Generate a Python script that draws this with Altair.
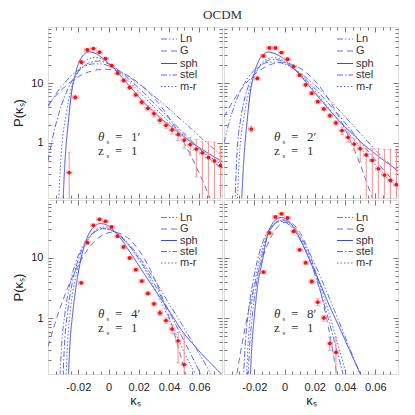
import altair as alt
import pandas as pd

# ---------------- data ----------------
XERR = 0.0018  # horizontal half-width of the bin error bars

# Panel 1: theta = 1'
P1_X = [-0.026, -0.022, -0.018, -0.014, -0.010, -0.006, -0.002, 0.002, 0.006, 0.010, 0.014, 0.018, 0.022,
        0.026, 0.030, 0.034, 0.038, 0.042, 0.046, 0.050, 0.054, 0.058, 0.062, 0.066, 0.070, 0.074]
P1_Y = [0.32, 5.8, 22.4, 36, 37.9, 32.9, 25.8, 19.7, 14.7, 11.1, 8.5, 6.4, 4.8,
        3.8, 3.1, 2.4, 1.97, 1.65, 1.38, 1.12, 0.94, 0.79, 0.68, 0.57, 0.50, 0.42]
P1_LO = [0.05, 5.3, 21, 34, 36, 31, 24.5, 18.7, 13.9, 10.4, 7.9, 5.9, 4.4,
         3.45, 2.75, 2.1, 1.76, 1.41, 1.10, 0.82, 0.62, 0.27, 0.05, 0.05, 0.05, 0.05]
P1_HI = [0.70, 6.3, 23.8, 38, 39.8, 34.8, 27.1, 20.7, 15.5, 11.8, 9.1, 6.9, 5.2,
         4.2, 3.45, 2.7, 2.19, 1.88, 1.67, 1.45, 1.24, 1.14, 1.05, 1.05, 1.03, 0.85]

P1_LN_X = [-0.040, -0.035, -0.030, -0.025, -0.020, -0.015, -0.010, -0.005, 0.000, 0.005, 0.010, 0.015,
           0.020, 0.025, 0.030, 0.035, 0.040, 0.045, 0.050, 0.055, 0.060, 0.065, 0.070, 0.076]
P1_LN_Y = [4.0, 6.5, 9.5, 13, 16.5, 19.5, 21, 21, 19.5, 17, 14.5, 12,
           9.7, 7.8, 6.1, 4.8, 3.7, 2.85, 2.2, 1.7, 1.3, 1.0, 0.78, 0.58]
P1_G_X = [-0.040, -0.035, -0.030, -0.025, -0.020, -0.015, -0.010, -0.003, 0.005, 0.010, 0.015,
          0.020, 0.025, 0.030, 0.035, 0.040, 0.045, 0.050, 0.055, 0.060, 0.065, 0.070]
P1_G_Y = [4.3, 6.1, 8.2, 10.5, 12.8, 14.8, 16.2, 17.1, 16.1, 14.5, 12.4,
          10.0, 7.8, 5.7, 4.0, 2.64, 1.67, 1.0, 0.57, 0.31, 0.16, 0.08]
P1_SPH_X = [-0.0306, -0.0288, -0.0266, -0.0244, -0.0222, -0.0200, -0.0171, -0.0145, -0.0123, -0.0090,
            -0.0035, 0.0031, 0.0097, 0.0163, 0.0229, 0.0295, 0.0361, 0.0427, 0.0493, 0.0559, 0.0625,
            0.0691, 0.0757]
P1_SPH_Y = [0.05, 0.48, 2.21, 7.0, 13.3, 20.8, 28.6, 32.5, 33.3, 31.7,
            25.5, 18.3, 11.8, 7.6, 4.9, 3.4, 2.4, 1.75, 1.3, 0.98, 0.76, 0.6, 0.48]
P1_STEL_X = [-0.040, -0.037, -0.033, -0.029, -0.025, -0.020, -0.015, -0.010, -0.006, -0.002, 0.003,
             0.008, 0.013, 0.018, 0.023, 0.028, 0.033, 0.038, 0.043, 0.048, 0.053, 0.058, 0.063, 0.068, 0.076]
P1_STEL_Y = [0.5, 1.2, 3.0, 6.0, 10, 15.5, 20.5, 23, 23.5, 22, 19,
             15.5, 12, 9.2, 7.0, 5.2, 3.9, 2.9, 2.15, 1.6, 1.2, 0.9, 0.68, 0.52, 0.35]
P1_MR_X = [-0.0335, -0.031, -0.028, -0.025, -0.021, -0.017, -0.013, -0.009, -0.005, 0.000, 0.005, 0.010,
           0.015, 0.020, 0.025, 0.030, 0.035, 0.040, 0.045, 0.050, 0.055, 0.060, 0.065, 0.070, 0.076]
P1_MR_Y = [0.06, 0.8, 3.0, 7.5, 14, 21, 25.5, 27, 25.5, 21.5, 17, 13,
           9.8, 7.3, 5.4, 4.0, 3.0, 2.25, 1.7, 1.3, 1.0, 0.8, 0.64, 0.52, 0.42]

# Panel 2: theta = 2'
P2_X = [-0.022, -0.018, -0.014, -0.010, -0.006, -0.002, 0.002, 0.006, 0.010, 0.014, 0.018, 0.022,
        0.026, 0.030, 0.034, 0.038, 0.042, 0.046, 0.050, 0.054, 0.058, 0.062, 0.066, 0.070, 0.074]
P2_Y = [1.71, 12.0, 28.6, 38.8, 38.8, 32.5, 25.2, 19.0, 13.6, 9.4, 6.8, 4.9,
        3.7, 2.86, 2.16, 1.61, 1.24, 0.96, 0.80, 0.63, 0.51, 0.37, 0.29, 0.236, 0.20]
P2_LO = [1.55, 11.2, 27, 37, 37, 31, 24, 18, 12.9, 8.9, 6.4, 4.6,
         3.45, 2.65, 1.95, 1.38, 1.03, 0.75, 0.48, 0.05, 0.05, 0.05, 0.05, 0.05, 0.05]
P2_HI = [1.9, 12.8, 30.2, 40.7, 40.7, 34, 26.4, 20, 14.3, 9.9, 7.2, 5.2,
         3.95, 3.07, 2.36, 1.83, 1.45, 1.17, 1.03, 0.80, 0.80, 0.80, 0.78, 0.78, 0.75]

P2_LN_X = [-0.040, -0.036, -0.032, -0.028, -0.024, -0.020, -0.015, -0.010, -0.005, 0.000, 0.005, 0.010,
           0.015, 0.020, 0.025, 0.030, 0.035, 0.040, 0.045, 0.050, 0.055, 0.060, 0.065, 0.070, 0.076]
P2_LN_Y = [1.0, 2.5, 5, 8.5, 12.5, 16.5, 20.5, 22.5, 22.5, 21, 18, 15,
           12, 9.3, 7.0, 5.2, 3.8, 2.75, 2.0, 1.45, 1.05, 0.77, 0.57, 0.43, 0.31]
P2_G_X = [-0.040, -0.036, -0.032, -0.028, -0.024, -0.020, -0.016, -0.012, -0.008, -0.002, 0.004, 0.010,
          0.014, 0.018, 0.022, 0.026, 0.030, 0.034, 0.038, 0.042, 0.046, 0.050, 0.054, 0.058, 0.062]
P2_G_Y = [2.72, 4.14, 6.0, 8.3, 11.0, 13.8, 16.7, 19.1, 21.0, 22.1, 21.0, 17.9,
          15.3, 12.4, 9.6, 7.1, 5.0, 3.38, 2.17, 1.33, 0.78, 0.44, 0.23, 0.12, 0.058]
P2_SPH_X = [-0.0290, -0.0270, -0.0248, -0.0226, -0.0204, -0.0171, -0.0138, -0.0105, -0.0072, -0.0017,
            0.0049, 0.0115, 0.0181, 0.0247, 0.0313, 0.0379, 0.0445, 0.0511, 0.0577, 0.0643, 0.0709, 0.0764]
P2_SPH_Y = [0.05, 0.48, 2.21, 7.0, 13.3, 23.6, 30.5, 33.3, 31.7, 26.9,
            19.0, 12.5, 7.9, 5.0, 3.2, 2.1, 1.45, 1.0, 0.73, 0.54, 0.41, 0.32]
P2_STEL_X = [-0.033, -0.0315, -0.029, -0.026, -0.022, -0.018, -0.014, -0.010, -0.006, -0.002, 0.003,
             0.008, 0.013, 0.018, 0.023, 0.028, 0.033, 0.038, 0.043, 0.048, 0.053, 0.058, 0.063, 0.068, 0.076]
P2_STEL_Y = [0.06, 0.6, 2.5, 6, 11.5, 17, 21.5, 24.5, 25, 23.5, 20,
             16, 12.3, 9.2, 6.8, 4.9, 3.5, 2.5, 1.75, 1.22, 0.85, 0.6, 0.42, 0.3, 0.18]
P2_MR_X = [-0.0315, -0.030, -0.027, -0.024, -0.020, -0.016, -0.012, -0.008, -0.004, 0.000, 0.005, 0.010,
           0.015, 0.020, 0.025, 0.030, 0.035, 0.040, 0.045, 0.050, 0.055, 0.060, 0.065, 0.070, 0.076]
P2_MR_Y = [0.06, 0.5, 2.5, 6.5, 13, 20, 25, 27, 26, 23, 18.5, 14,
           10.3, 7.4, 5.2, 3.6, 2.5, 1.75, 1.2, 0.85, 0.6, 0.43, 0.31, 0.23, 0.16]

# Panel 3: theta = 4'
P3_X = [-0.018, -0.014, -0.010, -0.006, -0.002, 0.002, 0.006, 0.010, 0.014,
        0.018, 0.022, 0.026, 0.030, 0.034, 0.038, 0.042, 0.046, 0.050]
P3_Y = [3.87, 18.0, 35.0, 44.0, 40.8, 32.8, 23.0, 15.3, 10.0,
        6.4, 4.13, 2.58, 1.73, 1.22, 0.91, 0.66, 0.42, 0.169]
P3_LO = [3.65, 17.0, 33.3, 42, 39, 31.3, 21.9, 14.5, 9.5,
         6.05, 3.9, 2.42, 1.6, 1.1, 0.82, 0.55, 0.18, 0.05]
P3_HI = [4.1, 19.0, 36.8, 46, 42.6, 34.3, 24.1, 16.1, 10.5,
         6.75, 4.37, 2.74, 1.86, 1.34, 1.01, 0.78, 0.58, 0.55]

P3_LN_X = [-0.0325, -0.031, -0.029, -0.026, -0.022, -0.018, -0.014, -0.010, -0.006, -0.002, 0.002, 0.006,
           0.010, 0.014, 0.018, 0.022, 0.026, 0.030, 0.034, 0.038, 0.042, 0.046, 0.050, 0.054, 0.058,
           0.062, 0.066, 0.070, 0.074]
P3_LN_Y = [0.06, 0.35, 1.1, 3.2, 8, 14, 20.5, 26, 29.5, 30.5, 29, 25.5,
           21, 16.5, 12.5, 9, 6.4, 4.5, 3.1, 2.1, 1.45, 1.0, 0.68, 0.46, 0.31, 0.21, 0.14, 0.095, 0.065]
P3_G_X = [-0.040, -0.034, -0.028, -0.022, -0.016, -0.010, -0.004, 0.003, 0.010, 0.016, 0.022, 0.028,
          0.034, 0.040, 0.046, 0.050, 0.054]
P3_G_Y = [0.336, 1.05, 2.75, 6.1, 11.4, 18.0, 24.0, 26.9, 24.0, 18.0, 11.4, 6.1,
          2.75, 1.05, 0.336, 0.143, 0.06]
P3_SPH_X = [-0.0270, -0.0255, -0.0237, -0.0215, -0.0189, -0.0156, -0.0123, -0.0090, -0.0057, -0.0024,
            0.0009, 0.0053, 0.0097, 0.0141, 0.0185, 0.0229, 0.0295, 0.0361, 0.0427, 0.0493, 0.0559,
            0.0625, 0.0691, 0.0746, 0.0760]
P3_SPH_Y = [0.05, 0.37, 1.18, 3.28, 8.0, 17.3, 27.1, 34.1, 37.3, 36.4,
            32.8, 25.4, 18.5, 12.6, 8.6, 5.8, 3.28, 1.85, 1.04, 0.58, 0.37, 0.24, 0.163, 0.118, 0.11]
P3_STEL_X = [-0.0305, -0.029, -0.027, -0.024, -0.020, -0.016, -0.012, -0.008, -0.004, 0.000, 0.004,
             0.008, 0.012, 0.016, 0.020, 0.024, 0.028, 0.032, 0.036, 0.040, 0.044, 0.048, 0.052, 0.056,
             0.060, 0.064]
P3_STEL_Y = [0.06, 0.4, 1.3, 3.8, 9.5, 16.5, 23.5, 28.5, 31, 30, 27,
             22.5, 17.8, 13.5, 9.8, 6.9, 4.7, 3.1, 2.0, 1.3, 0.82, 0.52, 0.33, 0.21, 0.13, 0.08]
P3_MR_X = [-0.0285, -0.027, -0.025, -0.022, -0.018, -0.014, -0.010, -0.006, -0.002, 0.002, 0.006, 0.010,
           0.014, 0.018, 0.022, 0.026, 0.030, 0.034, 0.038, 0.042, 0.046, 0.050, 0.054, 0.058, 0.062]
P3_MR_Y = [0.06, 0.4, 1.5, 4.5, 11, 19, 27, 32, 33, 30, 25.5, 20.5,
           15.5, 11.3, 7.8, 5.2, 3.3, 2.05, 1.25, 0.75, 0.45, 0.27, 0.17, 0.11, 0.07]

# Panel 4: theta = 8'
P4_X = [-0.014, -0.010, -0.006, -0.002, 0.002, 0.006, 0.010, 0.014, 0.018, 0.022, 0.026, 0.030, 0.034]
P4_Y = [5.84, 26.1, 48.2, 54.1, 46.4, 27.8, 13.7, 8.35, 4.08, 1.84, 1.01, 0.38, 0.27]
P4_LO = [5.5, 24.8, 46, 51.8, 44.4, 26.4, 12.9, 7.8, 3.75, 1.62, 0.89, 0.29, 0.05]
P4_HI = [6.2, 27.4, 50.4, 56.4, 48.4, 29.2, 14.5, 8.9, 4.45, 2.1, 1.11, 0.48, 0.48]

P4_LN_X = [-0.0245, -0.023, -0.021, -0.018, -0.015, -0.012, -0.009, -0.006, -0.003, 0.000, 0.003, 0.006,
           0.009, 0.012, 0.015, 0.018, 0.021, 0.024, 0.027, 0.030, 0.033, 0.036, 0.039, 0.042, 0.045,
           0.048, 0.051]
P4_LN_Y = [0.06, 0.35, 1.3, 4.5, 11, 20, 30, 38.5, 43, 43, 39, 33,
           26.5, 20, 14.5, 10.2, 7, 4.7, 3.1, 2.05, 1.35, 0.88, 0.57, 0.37, 0.24, 0.155, 0.1]
P4_G_X = [-0.0325, -0.030, -0.026, -0.022, -0.018, -0.014, -0.010, -0.006, -0.002, 0.0015, 0.005, 0.009,
          0.013, 0.017, 0.021, 0.025, 0.029, 0.033, 0.0355]
P4_G_Y = [0.082, 0.197, 0.70, 2.07, 5.2, 11.0, 19.6, 29.5, 37.3, 39.8, 37.3, 29.5,
          19.6, 11.0, 5.2, 2.07, 0.70, 0.197, 0.082]
P4_SPH_X = [-0.0232, -0.0215, -0.0198, -0.0176, -0.0149, -0.0116, -0.0083, -0.0050, -0.0022, 0.0005,
            0.0038, 0.0071, 0.0104, 0.0148, 0.0192, 0.0236, 0.0280, 0.0324, 0.0368, 0.0412, 0.0456,
            0.0500, 0.0515]
P4_SPH_Y = [0.05, 0.37, 1.18, 3.73, 8.26, 22.4, 36.4, 44.6, 47.0, 45.2,
            38.3, 28.9, 20.2, 11.8, 6.6, 3.73, 2.02, 1.135, 0.66, 0.37, 0.21, 0.118, 0.09]
P4_STEL_X = [-0.0275, -0.026, -0.024, -0.021, -0.018, -0.015, -0.012, -0.009, -0.006, -0.003, 0.000,
             0.003, 0.006, 0.009, 0.012, 0.015, 0.018, 0.021, 0.024, 0.027, 0.030, 0.033, 0.036, 0.039, 0.042]
P4_STEL_Y = [0.06, 0.35, 1.2, 3.8, 9, 16.5, 25, 32.5, 38, 40.5, 39.5,
             35.5, 29.5, 23, 16.8, 11.5, 7.4, 4.5, 2.6, 1.45, 0.78, 0.41, 0.21, 0.11, 0.055]
P4_MR_X = [-0.0255, -0.024, -0.022, -0.019, -0.016, -0.013, -0.010, -0.007, -0.004, -0.001, 0.002, 0.005,
           0.008, 0.011, 0.014, 0.017, 0.020, 0.023, 0.026, 0.029, 0.032, 0.035, 0.038, 0.041, 0.044]
P4_MR_Y = [0.06, 0.4, 1.5, 4.8, 11, 19, 28, 36, 41, 42, 39, 33.5,
           27, 20.5, 14.5, 9.8, 6.3, 3.9, 2.3, 1.3, 0.72, 0.39, 0.21, 0.11, 0.06]

NAMES = ["Ln", "G", "sph", "stel", "m-r"]
THETAS = ["1′", "2′", "4′", "8′"]

# axis ticks / domains
X_DOMAIN = [-0.04, 0.075]
X_MAJOR = [-0.02, 0.0, 0.02, 0.04, 0.06]
X_MINOR = [-0.035, -0.03, -0.025, -0.015, -0.01, -0.005, 0.005, 0.01, 0.015, 0.025,
           0.03, 0.035, 0.045, 0.05, 0.055, 0.065, 0.07]
Y_MAJOR = [1, 10]
Y_MINOR = [0.2, 0.3, 0.4, 0.5, 0.6, 0.7, 0.8, 0.9, 2, 3, 4, 5, 6, 7, 8, 9, 20, 30, 40, 50, 60, 70, 80]

# ---------------- styling ----------------
DASHES = [[6, 2, 1.5, 2, 1.5, 2], [6, 4], [1, 0], [6, 2, 1.5, 2], [1.5, 2]]
LINE_COLORS = ["#6170f2", "#6170f2", "#3a4aec", "#5867f0", "#5867f0"]
RED = "#ff0d0d"
ERRC = "#f29090"
FRAME = "#444444"
SANS = "Liberation Sans"
SERIF = "Liberation Serif"
XLAB = "datum.value === 0 ? '0' : (datum.value < 0 ? '-' : '') + format(abs(datum.value), '.2f')"


def axis(orient, values, size, labels=False, title=None, is_x=True):
    kw = dict(orient=orient, values=values, tickSize=size, offset=-size, domain=False, grid=False,
              labels=labels, tickColor="#555555", tickWidth=0.8, labelOverlap=False)
    if labels:
        kw.update(labelFont=SANS, labelFontSize=11, labelColor="#222222")
        if is_x:
            kw.update(labelExpr=XLAB, labelPadding=7, labelFlush=False)
        else:
            kw.update(format=".0f", labelPadding=5)
    if title:
        kw.update(title=title, titleFont=SANS, titleFontSize=13, titleFontWeight="normal",
                  titleColor="#222222")
        kw.update(titlePadding=2 if is_x else 5)
    return alt.Axis(**kw)


def curve_frame(pairs):
    return pd.concat([pd.DataFrame({"x": xs, "y": ys, "name": n}) for n, xs, ys in pairs],
                     ignore_index=True)


def one():
    return pd.DataFrame({"a": [0]})


def panel(px, py, plo, phi, pairs, ydom, h, left, bottom, theta, leg_rows, ann_y):
    xs = alt.Scale(domain=X_DOMAIN, nice=False, zero=False)
    ys = alt.Scale(type="log", domain=ydom, nice=False)
    cdf = curve_frame(pairs)
    pdf = pd.DataFrame({"x": px, "y": py, "lo": plo, "hi": phi})
    pdf["xlo"] = pdf["x"] - XERR
    pdf["xhi"] = pdf["x"] + XERR

    curves = alt.Chart(cdf).mark_line(clip=True, strokeWidth=1, interpolate="monotone").encode(
        x=alt.X("x:Q", scale=xs, title=None,
                axis=axis("bottom", X_MAJOR, 5, labels=bottom, title="κₛ" if bottom else None)),
        y=alt.Y("y:Q", scale=ys, title=None,
                axis=axis("left", Y_MAJOR, 5, labels=left, title="P(κₛ)" if left else None, is_x=False)),
        color=alt.Color("name:N", scale=alt.Scale(domain=NAMES, range=LINE_COLORS), legend=None),
        strokeDash=alt.StrokeDash("name:N", scale=alt.Scale(domain=NAMES, range=DASHES), legend=None),
    )
    vbar = alt.Chart(pdf).mark_rule(clip=True, color=ERRC, strokeWidth=1).encode(
        x=alt.X("x:Q", scale=xs, title=None, axis=axis("top", X_MAJOR, 5)),
        y=alt.Y("lo:Q", scale=ys, title=None, axis=axis("right", Y_MAJOR, 5, is_x=False)),
        y2="hi:Q",
    )
    hbar = alt.Chart(pdf).mark_rule(clip=True, color=ERRC, strokeWidth=1).encode(
        x=alt.X("xlo:Q", scale=xs, title=None, axis=axis("bottom", X_MINOR, 3)),
        x2="xhi:Q",
        y=alt.Y("y:Q", scale=ys, title=None, axis=axis("left", Y_MINOR, 3, is_x=False)),
    )
    caps = []
    for yf in ["lo", "hi"]:
        caps.append(alt.Chart(pdf).mark_tick(clip=True, color=ERRC, orient="horizontal", size=4,
                                             thickness=1).encode(
            x=alt.X("x:Q", scale=xs, axis=None), y=alt.Y(f"{yf}:Q", scale=ys, axis=None)))
    for xf in ["xlo", "xhi"]:
        caps.append(alt.Chart(pdf).mark_tick(clip=True, color=ERRC, orient="vertical", size=4,
                                             thickness=1).encode(
            x=alt.X(f"{xf}:Q", scale=xs, axis=None), y=alt.Y("y:Q", scale=ys, axis=None)))
    pts = alt.Chart(pdf).mark_circle(clip=True, color=RED, opacity=1, size=14).encode(
        x=alt.X("x:Q", scale=xs, title=None, axis=axis("top", X_MINOR, 3)),
        y=alt.Y("y:Q", scale=ys, title=None, axis=axis("right", Y_MINOR, 3, is_x=False)),
    )

    layers = [curves, hbar, vbar] + caps + [pts]

    # annotation
    ty, zy = ann_y
    def txt(s, x, y, size=12, style="normal"):
        return alt.Chart(one()).mark_text(text=s, font=SERIF, fontSize=size, fontStyle=style,
                                          color="#333333", align="left", baseline="alphabetic").encode(
            x=alt.value(x), y=alt.value(y))
    layers += [txt("θ", 50, ty, 13, "italic"), txt("s", 58.5, ty + 2.5, 7), txt("=", 67, ty, 13),
               txt(theta, 83, ty, 13),
               txt("z", 50, zy, 13), txt("s", 58.5, zy + 2.5, 7), txt("=", 67, zy, 13), txt("1", 83, zy, 13)]

    # legend
    for i, n in enumerate(NAMES):
        ry = leg_rows[i]
        layers.append(alt.Chart(one()).mark_rule(color=LINE_COLORS[i], strokeWidth=1,
                                                 strokeDash=DASHES[i]).encode(
            x=alt.value(113), x2=alt.value(129), y=alt.value(ry)))
        layers.append(alt.Chart(one()).mark_text(text=n, font=SANS, fontSize=11, color="#333333",
                                                 align="left", baseline="middle").encode(
            x=alt.value(132), y=alt.value(ry)))

    return alt.layer(*layers).resolve_axis(x="independent", y="independent").properties(
        width=174, height=h)


TOP_ROWS = [12, 24, 36.5, 48, 59.5]
BOT_ROWS = [17.5, 29, 40.5, 51.5, 63]

p1 = panel(P1_X, P1_Y, P1_LO, P1_HI,
           [("Ln", P1_LN_X, P1_LN_Y), ("G", P1_G_X, P1_G_Y), ("sph", P1_SPH_X, P1_SPH_Y),
            ("stel", P1_STEL_X, P1_STEL_Y), ("m-r", P1_MR_X, P1_MR_Y)],
           [0.12, 87], 171, True, False, THETAS[0], TOP_ROWS, (114, 128))
p2 = panel(P2_X, P2_Y, P2_LO, P2_HI,
           [("Ln", P2_LN_X, P2_LN_Y), ("G", P2_G_X, P2_G_Y), ("sph", P2_SPH_X, P2_SPH_Y),
            ("stel", P2_STEL_X, P2_STEL_Y), ("m-r", P2_MR_X, P2_MR_Y)],
           [0.12, 87], 171, False, False, THETAS[1], TOP_ROWS, (114, 128))
p3 = panel(P3_X, P3_Y, P3_LO, P3_HI,
           [("Ln", P3_LN_X, P3_LN_Y), ("G", P3_G_X, P3_G_Y), ("sph", P3_SPH_X, P3_SPH_Y),
            ("stel", P3_STEL_X, P3_STEL_Y), ("m-r", P3_MR_X, P3_MR_Y)],
           [0.118, 92], 174, True, True, THETAS[2], BOT_ROWS, (118, 132))
p4 = panel(P4_X, P4_Y, P4_LO, P4_HI,
           [("Ln", P4_LN_X, P4_LN_Y), ("G", P4_G_X, P4_G_Y), ("sph", P4_SPH_X, P4_SPH_Y),
            ("stel", P4_STEL_X, P4_STEL_Y), ("m-r", P4_MR_X, P4_MR_Y)],
           [0.118, 92], 174, False, True, THETAS[3], BOT_ROWS, (118, 132))

chart = alt.vconcat(
    alt.hconcat(p1, p2, spacing=0),
    alt.hconcat(p3, p4, spacing=0),
    spacing=0,
).properties(
    title=alt.TitleParams("OCDM", font=SERIF, fontSize=13, fontWeight="normal", color="#333333",
                          anchor="middle", dx=17, offset=4),
    padding={"left": 4, "top": 1, "right": 0, "bottom": 0},
).configure_view(stroke=FRAME, strokeWidth=1).configure(background="white")

chart.save("out.html", embed_options={"renderer": "svg", "actions": False})
